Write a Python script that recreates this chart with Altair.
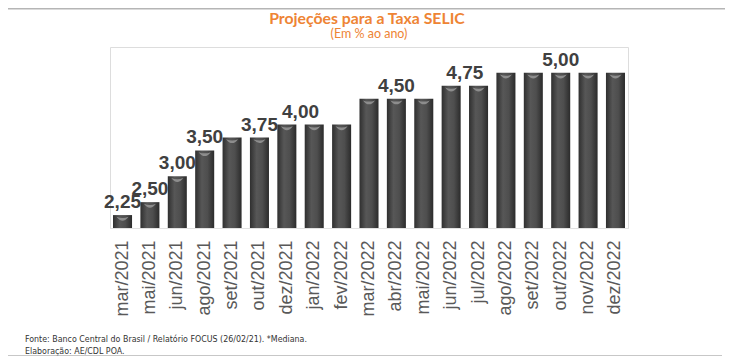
import altair as alt
import pandas as pd

# ---- data ----
months = ["mar/2021", "mai/2021", "jun/2021", "ago/2021", "set/2021", "out/2021",
          "dez/2021", "jan/2022", "fev/2022", "mar/2022", "abr/2022", "mai/2022",
          "jun/2022", "jul/2022", "ago/2022", "set/2022", "out/2022", "nov/2022",
          "dez/2022"]
selic = [2.25, 2.50, 3.00, 3.50, 3.75, 3.75, 4.00, 4.00, 4.00, 4.50, 4.50, 4.50,
         4.75, 4.75, 5.00, 5.00, 5.00, 5.00, 5.00]

# value labels placed on a bar
label_months = ["mar/2021", "mai/2021", "jun/2021", "ago/2021", "out/2021",
                "abr/2022", "out/2022"]
label_values = [2.25, 2.50, 3.00, 3.50, 3.75, 4.50, 5.00]
# value labels placed between two bars (on the first of the pair)
mid_label_months = ["dez/2021", "jun/2022"]
mid_label_values = [4.00, 4.75]

title_text = ["Projeções para a Taxa SELIC"]
subtitle_text = ["(Em % ao ano)"]
footer_line1 = ["Fonte: Banco Central do Brasil / Relatório FOCUS (26/02/21). *Mediana."]
footer_line2 = ["Elaboração: AE/CDL POA."]


def fmt(v):
    return f"{v:.2f}".replace(".", ",")


df = pd.DataFrame({"mes": months, "taxa": selic})
lab = pd.DataFrame({"mes": label_months, "taxa": label_values,
                    "txt": [fmt(v) for v in label_values]})
mid = pd.DataFrame({"mes": mid_label_months, "taxa": mid_label_values,
                    "txt": [fmt(v) for v in mid_label_values]})

W, H = 518, 181
STEP = W / (19 - 0.305 + 2 * 0.11)

x_scale = alt.Scale(paddingInner=0.305, paddingOuter=0.11)
y_scale = alt.Scale(domain=[2, 5.5], nice=False, zero=False)

x_enc = alt.X("mes:N", sort=months, scale=x_scale,
              axis=alt.Axis(title=None, labelAngle=-90, ticks=False, labelPadding=12,
                            labelFontSize=18, labelColor="#595959",
                            labelFont="Liberation Sans", domainColor="#e2e2e2",
                            domainWidth=1, grid=False))
y_enc = alt.Y("taxa:Q", scale=y_scale, axis=None)

grad = alt.Gradient(gradient="linear", x1=0, x2=1, y1=0, y2=0,
                    stops=[alt.GradientStop(offset=0, color="#2f2f2f"),
                           alt.GradientStop(offset=0.35, color="#575757"),
                           alt.GradientStop(offset=0.65, color="#4e4e4e"),
                           alt.GradientStop(offset=1, color="#2b2b2b")])

bars = alt.Chart(df).mark_bar(color=grad).encode(x=x_enc, y=y_enc, y2=alt.datum(2))

shine = alt.Chart(df).mark_point(
    shape="M -1 -0.55 Q 0 0.75 1 -0.55 Q 0 -0.15 -1 -0.55 Z",
    filled=True, color="#939393", opacity=0.9, size=144, yOffset=5, strokeWidth=0
).encode(x=alt.X("mes:N", sort=months), y=y_enc)

lab_style = dict(font="Liberation Sans", fontWeight="bold", fontSize=19,
                 color="#404040", baseline="alphabetic", dy=-7)
labels = alt.Chart(lab).mark_text(**lab_style).encode(
    x=alt.X("mes:N", sort=months), y=y_enc, text="txt:N")
mid_labels = alt.Chart(mid).mark_text(dx=STEP / 2, **lab_style).encode(
    x=alt.X("mes:N", sort=months), y=y_enc, text="txt:N")

title = alt.Chart(pd.DataFrame({"t": title_text})).mark_text(
    font="Lato", fontWeight="bold", fontSize=15.8, color="#EE8434",
    align="center", baseline="alphabetic"
).encode(x=alt.value(257), y=alt.value(-23), text="t:N")
subtitle = alt.Chart(pd.DataFrame({"t": subtitle_text})).mark_text(
    font="Lato", fontSize=12.5, color="#EE8434", align="center", baseline="alphabetic"
).encode(x=alt.value(259), y=alt.value(-9), text="t:N")

foot_style = dict(font="Liberation Sans Narrow, DejaVu Sans Condensed, Liberation Sans",
                  fontSize=8.8, color="#333333", align="left", baseline="middle")
footer1 = alt.Chart(pd.DataFrame({"t": footer_line1})).mark_text(**foot_style).encode(
    x=alt.value(-85), y=alt.value(292), text="t:N")
footer2 = alt.Chart(pd.DataFrame({"t": footer_line2})).mark_text(**foot_style).encode(
    x=alt.value(-85), y=alt.value(304), text="t:N")

one = pd.DataFrame({"a": [0]})
top_rule = alt.Chart(one).mark_rule(color="#b5b5b5", strokeWidth=1.5).encode(
    x=alt.value(-102), x2=alt.value(615), y=alt.value(-38.3))
bottom_rule = alt.Chart(one).mark_rule(color="#b5b5b5", strokeWidth=1.5).encode(
    x=alt.value(-102), x2=alt.value(612), y=alt.value(309))

chart = alt.layer(bars, shine, labels, mid_labels, title, subtitle, footer1, footer2,
                  top_rule, bottom_rule).properties(
    width=W, height=H,
    autosize=alt.AutoSizeParams(type="none"),
    padding={"left": 102, "top": 39, "right": 99, "bottom": 128},
).configure_view(stroke=None).configure(background="white")

chart.save("out.html", embed_options={"renderer": "svg", "actions": False})
